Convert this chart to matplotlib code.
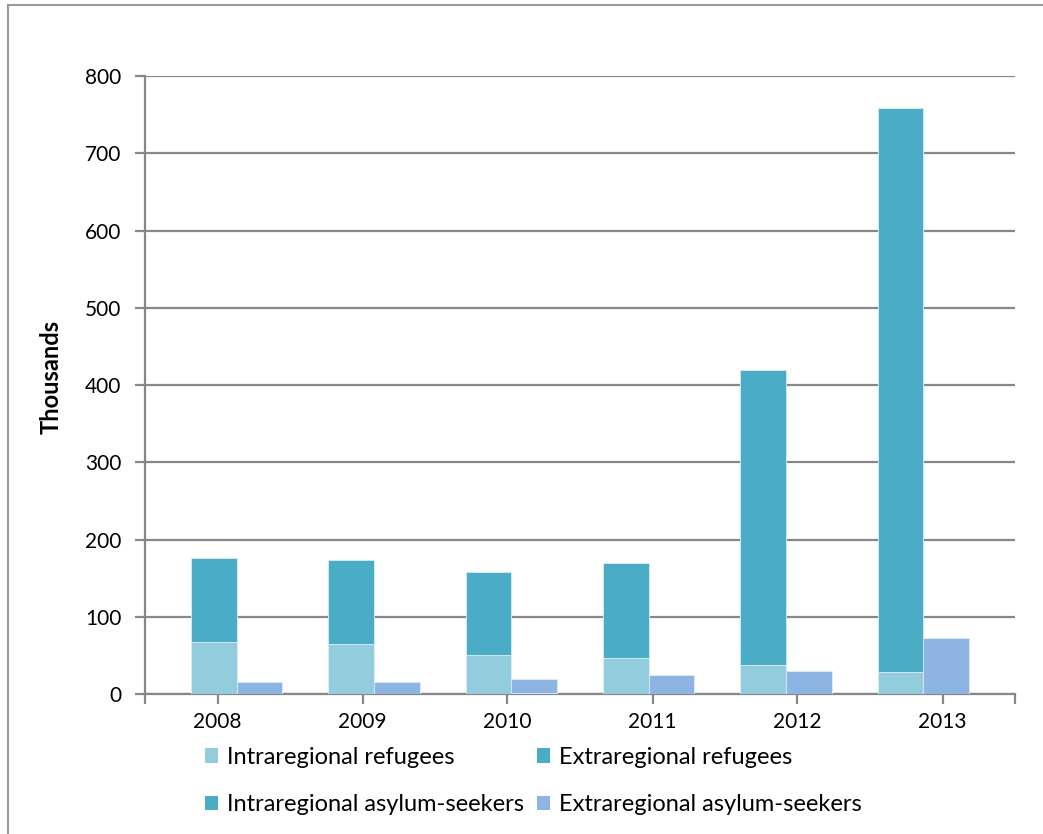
# Refugees and asylum-seekers, 2008-2013

import numpy as np
import matplotlib.pyplot as plt
from matplotlib.patches import Patch, Rectangle


years = ["2008", "2009", "2010", "2011", "2012", "2013"]
intra_refugees = [67, 65, 51, 46, 38, 29]
extra_refugees = [109, 109, 107, 124, 382, 729]
intra_asylum = [0, 0, 1, 0, 0, 0]
extra_asylum = [16, 16, 18, 25, 30, 72]

labels = [
    "Intraregional refugees",
    "Extraregional refugees",
    "Intraregional asylum-seekers",
    "Extraregional asylum-seekers",
]
colors = ["#93CDDD", "#4BACC6", "#4AACC5", "#8EB4E3"]
grey = "#878787"

plt.rcParams["font.family"] = ["Lato", "DejaVu Sans"]
plt.rcParams["font.size"] = 15

fig = plt.figure(figsize=(10.43, 8.34), dpi=100)
ax = fig.add_axes([145 / 1043, 140 / 834, 870 / 1043, 618 / 834])

# chart frame
fig.patches.append(
    Rectangle((8 / 1043, -0.05), 1.1, (834 - 5) / 834 + 0.05,
              transform=fig.transFigure, fill=False,
              edgecolor="#9a9a9a", linewidth=1.5)
)

# 19 slots of equal width, bars sit in pairs with an empty slot between
n_slots = 19
k = np.arange(len(years))
left_x = 1 + 3 * k
right_x = 2 + 3 * k

edge = dict(edgecolor="#d8eef4", linewidth=0.6, width=1.0, align="edge", zorder=3)
b1 = ax.bar(left_x, intra_refugees, color=colors[0], **edge)
b2 = ax.bar(left_x, extra_refugees, bottom=intra_refugees, color=colors[1], **edge)
b3 = ax.bar(right_x, intra_asylum, color=colors[2], **edge)
b4 = ax.bar(right_x, extra_asylum, bottom=intra_asylum, color=colors[3], **edge)

ax.set_xlim(0, n_slots)
ax.set_ylim(0, 800)
ax.set_yticks(range(0, 801, 100))
ax.yaxis.grid(True, color=grey, linewidth=1.6, zorder=0)
ax.set_axisbelow(True)

tick_pos = (k + 0.5) * n_slots / len(years)
ax.set_xticks(tick_pos)
ax.set_xticklabels(years)
ax.set_xticks([0, n_slots], minor=True)

for s in ["top", "right"]:
    ax.spines[s].set_visible(False)
for s in ["left", "bottom"]:
    ax.spines[s].set_color(grey)
    ax.spines[s].set_linewidth(1.6)
ax.tick_params(axis="both", which="both", color=grey, width=1.6, length=7,
               direction="out", pad=6, labelcolor="black")
ax.tick_params(axis="y", pad=10)

ax.set_ylabel("Thousands", fontweight="bold", fontsize=17)
ax.yaxis.set_label_coords(-0.095, 0.513)

handles = [Patch(facecolor=c) for c in colors]
order = [0, 2, 1, 3]
fig.legend(
    [handles[i] for i in order],
    [labels[i] for i in order],
    ncol=2,
    loc="upper left",
    bbox_to_anchor=(193 / 1043, 1 - 735 / 834),
    frameon=False,
    borderpad=0,
    handlelength=0.55,
    handleheight=0.55,
    handletextpad=0.38,
    columnspacing=0.55,
    labelspacing=1.13,
    fontsize=17,
)

fig.savefig("out.png", dpi=100)
